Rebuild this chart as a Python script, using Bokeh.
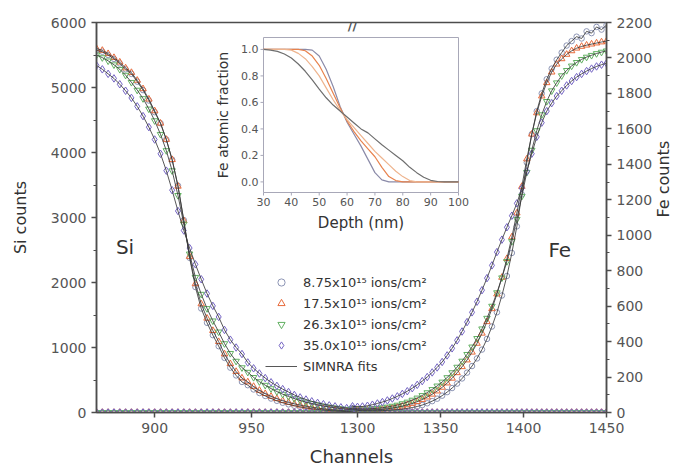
import math
from bokeh.plotting import figure
from bokeh.models import (Range1d, LinearAxis, FixedTicker, SingleIntervalTicker,
                          Legend, LegendItem, Label)
from bokeh.core.properties import value
from bokeh.embed import file_html
from bokeh.resources import INLINE

# ---------------- data ----------------
si_channels = list(range(870, 1003, 3))      # left (Si) segment channels
fe_channels = list(range(1297, 1451, 3))     # right (Fe) segment channels

si_875 = [5570, 5550, 5500, 5440, 5370, 5280, 5210, 5090, 4960, 4800,
          4620, 4450, 4200, 3890, 3490, 2960, 2380, 1930, 1600, 1380,
          1190, 1020, 840, 690, 570, 470, 420, 355, 300, 255,
          215, 180, 150, 125, 104, 86, 71, 58, 47, 38,
          30, 24, 18, 14, 10]
si_175 = [5600, 5570, 5520, 5460, 5390, 5300, 5230, 5110, 4980, 4820,
          4640, 4450, 4200, 3890, 3480, 2950, 2400, 1980, 1670, 1450,
          1260, 1090, 900, 750, 630, 530, 470, 400, 340, 290,
          248, 212, 181, 155, 132, 112, 95, 80, 67, 56,
          46, 38, 31, 25, 20]
si_263 = [5500, 5460, 5410, 5350, 5280, 5190, 5080, 4960, 4830, 4670,
          4490, 4280, 4030, 3720, 3340, 2900, 2440, 2080, 1820, 1600,
          1410, 1240, 1060, 910, 790, 690, 620, 540, 475, 420,
          368, 322, 282, 246, 214, 185, 160, 138, 118, 100,
          85, 72, 60, 50, 42]
si_350 = [5340, 5280, 5210, 5140, 5050, 4950, 4840, 4710, 4560, 4390,
          4200, 3980, 3720, 3420, 3100, 2800, 2530, 2280, 2050, 1830,
          1640, 1470, 1270, 1120, 1000, 900, 770, 680, 600, 530,
          465, 410, 360, 315, 270, 232, 200, 172, 148, 128,
          110, 95, 80, 68, 58]

fe_875 = [15, 12, 10, 10, 10, 10, 11, 12, 14, 16,
          19, 23, 28, 34, 42, 52, 64, 78, 95, 115,
          138, 163, 192, 225, 262, 305, 355, 415, 485, 565,
          660, 770, 900, 1050, 1230, 1410, 1570, 1700, 1800, 1880,
          1940, 1990, 2030, 2070, 2095, 2120, 2110, 2150, 2140, 2175,
          2160, 2185]
fe_175 = [20, 16, 14, 14, 15, 16, 18, 21, 25, 30,
          36, 43, 51, 61, 73, 87, 103, 121, 142, 166,
          193, 224, 258, 296, 340, 390, 447, 512, 585, 668,
          762, 868, 990, 1125, 1275, 1430, 1570, 1690, 1785, 1860,
          1920, 1965, 1995, 2020, 2040, 2055, 2065, 2072, 2078, 2084,
          2090, 2095]
fe_263 = [25, 22, 20, 20, 22, 24, 27, 31, 36, 42,
          50, 59, 70, 82, 96, 112, 130, 150, 172, 197,
          225, 256, 290, 328, 370, 418, 472, 532, 600, 676,
          760, 852, 965, 1090, 1220, 1355, 1480, 1590, 1680, 1755,
          1815, 1860, 1900, 1930, 1955, 1975, 1992, 2005, 2015, 2025,
          2033, 2040]
fe_350 = [35, 32, 34, 38, 44, 51, 59, 68, 79, 91,
          105, 120, 137, 156, 177, 200, 226, 254, 285, 322,
          362, 407, 457, 510, 565, 625, 690, 758, 830, 905,
          975, 1045, 1110, 1180, 1265, 1360, 1460, 1555, 1635, 1700,
          1745, 1785, 1815, 1845, 1870, 1892, 1910, 1926, 1940, 1952,
          1962, 1970]

# counts are zero for Fe in the Si window and for Si in the Fe window
fe_zero_in_si_window = [0] * len(si_channels)
si_zero_in_fe_window = [0] * len(fe_channels)

series_labels = ["8.75x10\u00b9\u2075 ions/cm\u00b2", "17.5x10\u00b9\u2075 ions/cm\u00b2",
                 "26.3x10\u00b9\u2075 ions/cm\u00b2", "35.0x10\u00b9\u2075 ions/cm\u00b2"]
fit_label = "SIMNRA fits"

# inset: Fe atomic fraction vs depth
depth_nm = [30, 32.5, 35, 37.5, 40, 42.5, 45, 47.5, 50, 52.5, 55, 57.5, 60, 62.5,
            65, 67.5, 70, 72.5, 75, 77.5, 80, 82.5, 85, 87.5, 90, 92.5, 95, 97.5, 100]
frac_875 = [1, 1, 1, 1, 1, 1, 1, 0.995, 0.95, 0.85, 0.72, 0.57, 0.45, 0.36,
            0.27, 0.17, 0.07, 0.015, 0, 0, 0, 0, 0, 0, 0, 0, 0, 0, 0]
frac_175 = [1, 1, 1, 1, 1, 1, 0.99, 0.95, 0.88, 0.78, 0.67, 0.56, 0.46, 0.38,
            0.31, 0.25, 0.19, 0.11, 0.04, 0.01, 0, 0, 0, 0, 0, 0, 0, 0, 0]
frac_263 = [1, 1, 1, 1, 0.995, 0.97, 0.93, 0.87, 0.80, 0.71, 0.62, 0.54, 0.47, 0.41,
            0.35, 0.29, 0.23, 0.18, 0.13, 0.08, 0.04, 0.01, 0, 0, 0, 0, 0, 0, 0]
frac_350 = [1.0, 0.995, 0.985, 0.965, 0.935, 0.89, 0.835, 0.77, 0.70, 0.635, 0.58, 0.535,
            0.49, 0.445, 0.40, 0.37, 0.325, 0.28, 0.24, 0.20, 0.16, 0.11, 0.07, 0.035,
            0.012, 0.003, 0, 0, 0]
inset_xticks = [30, 40, 50, 60, 70, 80, 90, 100]
inset_yticks = [0.0, 0.2, 0.4, 0.6, 0.8, 1.0]
inset_xlim = (30, 100)
inset_ylim = (-0.08, 1.09)

si_window = (870, 1002)
fe_window = (1297, 1450)
left_ticks = [900, 950]
right_ticks = [1300, 1350, 1400, 1450]

# ---------------- styling / geometry ----------------
FONT = "DejaVu Sans"
AX = "#4d4d4d"
colors = ["#8d95b5", "#e86a3a", "#62b062", "#7464c4"]
markers = ["circle", "triangle", "inverted_triangle", "diamond"]
msizes = [5.5, 6.5, 6.5, 7.5]
fit_color = "#3a3a3a"
inset_colors = ["#8a8aa8", "#e8834e", "#eeb48e", "#6e6e6e"]
IN_AX = "#a8a8b8"

FRAME_L, FRAME_T, FRAME_W, FRAME_H = 96, 22, 510, 390
BREAK_FRAC = 256 / 510
main_end = si_window[0] + (si_window[1] - si_window[0]) / BREAK_FRAC
fe_start = fe_window[0] - (fe_window[1] - fe_window[0]) * BREAK_FRAC / (1 - BREAK_FRAC)
Y_MAX = 6000

p = figure(width=693, height=471, output_backend="svg", toolbar_location=None,
           x_range=Range1d(si_window[0], main_end), y_range=Range1d(0, Y_MAX),
           min_border_left=FRAME_L, min_border_right=693 - FRAME_L - FRAME_W,
           min_border_top=FRAME_T, min_border_bottom=471 - FRAME_T - FRAME_H,
           outline_line_color=AX, outline_line_width=1.5)
p.extra_x_ranges = {"fe": Range1d(fe_start, fe_window[1])}
p.extra_y_ranges = {"fe": Range1d(0, 2200)}
p.grid.visible = False

# bottom axis: ticks of both windows on one axis
def to_main(t):
    pos = si_window[0] + (t - fe_start) / (fe_window[1] - fe_start) * (main_end - si_window[0])
    return min(pos, main_end)

tick_pos = list(left_ticks) + [to_main(t) for t in right_ticks]
xa = p.xaxis[0]
xa.ticker = FixedTicker(ticks=tick_pos, minor_ticks=[])
xa.major_label_overrides = {pos: str(t) for pos, t in zip(tick_pos, left_ticks + right_ticks)}
xa.axis_label = "Channels"

ya = p.yaxis[0]
ya.ticker = SingleIntervalTicker(interval=1000, num_minor_ticks=2)
ya.axis_label = "Si counts"

ra = LinearAxis(y_range_name="fe", axis_label="Fe counts",
                ticker=SingleIntervalTicker(interval=200, num_minor_ticks=2))
p.add_layout(ra, "right")

for ax in (xa, ya, ra):
    ax.axis_line_color = AX
    ax.axis_line_width = 1.5
    ax.major_tick_line_color = AX
    ax.major_tick_line_width = 1.5
    ax.minor_tick_line_color = AX
    ax.major_tick_out = 5
    ax.major_tick_in = 0
    ax.minor_tick_out = 3
    ax.minor_tick_in = 0
    ax.major_label_text_font = FONT
    ax.major_label_text_font_size = "14px"
    ax.major_label_text_color = "#555555"
    ax.axis_label_text_font = FONT
    ax.axis_label_text_font_style = "normal"
    ax.axis_label_text_font_size = "16px"
    ax.axis_label_text_color = "#333333"
xa.axis_label_text_font_size = "18px"
xa.axis_label_standoff = 10
ya.axis_label_standoff = 18
ra.axis_label_standoff = 8
try:
    ra.axis_label_orientation = math.pi / 2
except Exception:
    pass

# main data
sis = [si_875, si_175, si_263, si_350]
fes = [fe_875, fe_175, fe_263, fe_350]
legend_rs = []
for si, fe, c, m, s in zip(sis, fes, colors, markers, msizes):
    kw = dict(marker=m, size=s, line_color=c, fill_color=None, line_width=1)
    r = p.scatter(si_channels, si, **kw)
    p.scatter(fe_channels, fe, x_range_name="fe", y_range_name="fe", **kw)
    p.scatter(si_channels, fe_zero_in_si_window, **kw)
    p.scatter(fe_channels, si_zero_in_fe_window, x_range_name="fe", y_range_name="fe", **kw)
    legend_rs.append(r)

fit_rs = []
for si, fe in zip(sis, fes):
    fr = p.line(si_channels, si, line_color=fit_color, line_width=1, line_alpha=0.85)
    p.line(fe_channels, fe, x_range_name="fe", y_range_name="fe",
           line_color=fit_color, line_width=1, line_alpha=0.85)
    fit_rs.append(fr)

items = [LegendItem(label=lab, renderers=[r]) for lab, r in zip(series_labels, legend_rs)]
items.append(LegendItem(label=fit_label, renderers=[fit_rs[0]]))
legend = Legend(items=items, location=(169, 37), padding=0, margin=0,
                border_line_color=None, background_fill_alpha=0,
                label_text_font=FONT, label_text_font_size="13px", label_text_color="#333333",
                glyph_width=32, glyph_height=18, label_height=18, spacing=3, label_standoff=6)
p.add_layout(legend)

p.add_layout(Label(x=880, y=2540, text="Si", text_font=FONT, text_font_size="20px",
                   text_color="#333333", text_baseline="middle", text_align="left"))
p.add_layout(Label(x=1415, y=917, x_range_name="fe", y_range_name="fe", text="Fe",
                   text_font=FONT, text_font_size="20px", text_color="#333333",
                   text_baseline="middle", text_align="left"))
for yb in (Y_MAX, 0):
    p.add_layout(Label(x=si_window[1], y=yb, y_offset=-3, text="//", text_font=FONT,
                       text_font_size="13px", text_font_style="bold",
                       text_color="#555555", text_baseline="middle", text_align="center"))

# ---------------- inset (sub-coordinates inside the main frame) ----------------
def main_x(px):
    return si_window[0] + (px - FRAME_L) / FRAME_W * (main_end - si_window[0])

def main_y(py):
    return (FRAME_T + FRAME_H - py) / FRAME_H * Y_MAX

IN_L, IN_R, IN_T, IN_B = 263, 458, 37, 192
sub = p.subplot(x_source=Range1d(*inset_xlim), y_source=Range1d(*inset_ylim),
                x_target=Range1d(main_x(IN_L), main_x(IN_R)),
                y_target=Range1d(main_y(IN_B), main_y(IN_T)))
dx = (inset_xlim[1] - inset_xlim[0]) / (IN_R - IN_L)   # inset units per pixel
dy = (inset_ylim[1] - inset_ylim[0]) / (IN_B - IN_T)
x0, x1 = inset_xlim
y0, y1 = inset_ylim

sub.quad(left=[x0], right=[x1], bottom=[y0], top=[y1],
         fill_color="white", line_color=IN_AX, line_width=1)
for fr, c in zip([frac_875, frac_175, frac_263, frac_350], inset_colors):
    sub.line(depth_nm, fr, line_color=c, line_width=1.2)

# inset ticks
sub.segment(x0=inset_xticks, y0=[y0] * len(inset_xticks),
            x1=inset_xticks, y1=[y0 - 3 * dy] * len(inset_xticks), line_color=IN_AX)
sub.segment(x0=[x0] * len(inset_yticks), y0=inset_yticks,
            x1=[x0 - 3 * dx] * len(inset_yticks), y1=inset_yticks, line_color=IN_AX)
sub.text(x=inset_xticks, y=[y0 - 5 * dy] * len(inset_xticks),
         text=[str(t) for t in inset_xticks],
         text_font=value(FONT), text_font_size="11px", text_color="#555555",
         text_align="center", text_baseline="top")
sub.text(x=[x0 - 5 * dx] * len(inset_yticks), y=inset_yticks,
         text=["%.1f" % t for t in inset_yticks],
         text_font=value(FONT), text_font_size="11px", text_color="#555555",
         text_align="right", text_baseline="middle")
sub.text(x=[(x0 + x1) / 2], y=[y0 - 21 * dy], text=["Depth (nm)"],
         text_font=value(FONT), text_font_size="15px", text_color="#333333",
         text_align="center", text_baseline="top")
sub.text(x=[x0 - 41 * dx], y=[(y0 + y1) / 2], text=["Fe atomic fraction"], angle=math.pi / 2,
         text_font=value(FONT), text_font_size="14px", text_color="#333333",
         text_align="center", text_baseline="middle")

open("out.html", "w").write(file_html(p, INLINE))
